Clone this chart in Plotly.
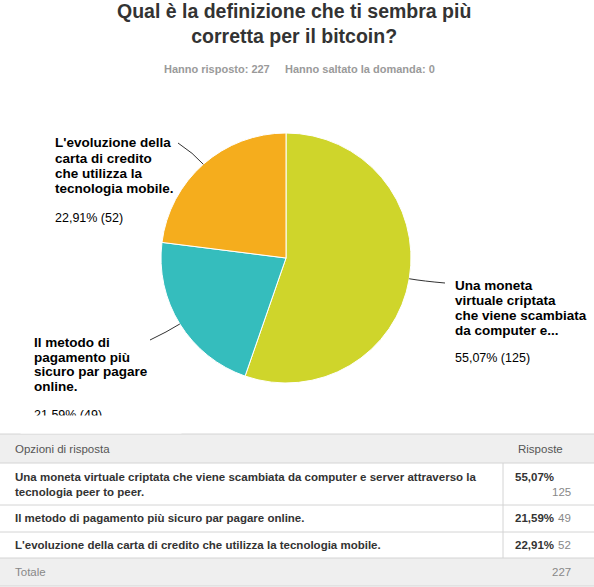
import math
import plotly.graph_objects as go

# ---------------- data ----------------
title_lines = ["Qual è la definizione che ti sembra più", "corretta per il bitcoin?"]
answered = 227
skipped = 0
answers = [
    "Una moneta virtuale criptata che viene scambiata da computer e server attraverso la tecnologia peer to peer.",
    "Il metodo di pagamento più sicuro par pagare online.",
    "L'evoluzione della carta di credito che utilizza la tecnologia mobile.",
]
answer_table_lines = [
    ["Una moneta virtuale criptata che viene scambiata da computer e server attraverso la",
     "tecnologia peer to peer."],
    ["Il metodo di pagamento più sicuro par pagare online."],
    ["L'evoluzione della carta di credito che utilizza la tecnologia mobile."],
]
pie_label_lines = [
    ["Una moneta", "virtuale criptata", "che viene scambiata", "da computer e..."],
    ["Il metodo di", "pagamento più", "sicuro par pagare", "online."],
    ["L'evoluzione della", "carta di credito", "che utilizza la", "tecnologia mobile."],
]
counts = [125, 49, 52]
colors = ["#CFD52B", "#35BDBD", "#F5AD1D"]
header_labels = ["Opzioni di risposta", "Risposte"]
total_label = "Totale"

# ---------------- layout helpers ----------------
W, H = 594, 587
FONT = "Liberation Sans, Arial, Helvetica, sans-serif"


def px(x):
    return x / W


def py(y):
    return 1 - y / H


def pct(v):
    return f"{100 * v / answered:.2f}".replace(".", ",") + "%"


CX, CY, R = 286, 258, 125

fig = go.Figure()
fig.add_trace(go.Pie(
    values=counts,
    labels=answers,
    marker=dict(colors=colors, line=dict(color="white", width=1)),
    sort=False,
    direction="clockwise",
    rotation=0,
    textinfo="none",
    hoverinfo="none",
    showlegend=False,
    domain=dict(x=[px(CX - R), px(CX + R)], y=[py(CY + R), py(CY - R)]),
))

ann = []
shapes = []


def text(x, y, s, size=12, color="#333", bold=False, xanchor="left", **kw):
    if bold:
        s = f"<b>{s}</b>"
    ann.append(dict(x=px(x), y=py(y), xref="paper", yref="paper", text=s,
                    showarrow=False, xanchor=xanchor, yanchor="middle",
                    font=dict(family=FONT, size=size, color=color), **kw))


# title
text(294, 23, "<br>".join(title_lines), size=19.5, color="#333333", bold=True, xanchor="center")
text(162, 69, f"Hanno risposto: {answered}", size=11, color="#9a9a9a", bold=True)
text(283, 69, f"Hanno saltato la domanda: {skipped}", size=11, color="#9a9a9a", bold=True)

# pie labels (layout positions)
label_pos = [
    dict(x=453, y0=285, dy=15, pct_y=358, end=(445, 283)),
    dict(x=32, y0=342.5, dy=14.5, pct_y=415, end=(150, 340)),
    dict(x=53, y0=143, dy=15, pct_y=218, end=(178, 143)),
]
total_counts = sum(counts)
cum = 0
for i, c in enumerate(counts):
    mid = (cum + c / 2) / total_counts * 2 * math.pi
    cum += c
    sx, sy = CX + R * math.sin(mid), CY - R * math.cos(mid)
    qx, qy = CX + (R + 15) * math.sin(mid), CY - (R + 15) * math.cos(mid)
    ex, ey = label_pos[i]["end"]
    path = (f"M {px(sx)},{py(sy)} Q {px(qx)},{py(qy)} {px(ex)},{py(ey)}")
    shapes.append(dict(type="path", path=path, xref="paper", yref="paper",
                       line=dict(color="#333", width=1)))
    lp = label_pos[i]
    for j, line in enumerate(pie_label_lines[i]):
        text(lp["x"], lp["y0"] + j * lp["dy"], line, size=13.5, color="#000", bold=True)
    text(lp["x"], lp["pct_y"], f"{pct(c)} ({c})", size=12.5, color="#000")

# clip the overflowing label at the bottom of the chart area
ann.append(dict(x=px(20), y=py(415), xref="paper", yref="paper", text=" ",
                showarrow=False, xanchor="left", yanchor="top",
                width=160, height=17, bgcolor="white", borderpad=0,
                font=dict(size=1)))

# ---------------- table ----------------
LINE = "#d4d4d4"
GREY = "#efefef"
row_edges = [434, 463, 505, 532, 558, 586]
shapes.append(dict(type="rect", xref="paper", yref="paper", x0=0, x1=1,
                   y0=py(row_edges[1]), y1=py(row_edges[0]), fillcolor=GREY, line_width=0, layer="below"))
shapes.append(dict(type="rect", xref="paper", yref="paper", x0=0, x1=1,
                   y0=py(row_edges[5]), y1=py(row_edges[4]), fillcolor=GREY, line_width=0, layer="below"))
for ye in row_edges:
    shapes.append(dict(type="line", xref="paper", yref="paper", x0=0, x1=1,
                       y0=py(ye), y1=py(ye), line=dict(color=LINE, width=1)))
shapes.append(dict(type="line", xref="paper", yref="paper", x0=px(503), x1=px(503),
                   y0=py(row_edges[1]), y1=py(row_edges[4]), line=dict(color=LINE, width=1)))

text(13, 449, header_labels[0], size=11.5, color="#555")
text(516, 449, header_labels[1], size=11.5, color="#555")

row_text_y = [[477, 492], [518], [545]]
for i, lines in enumerate(answer_table_lines):
    for j, line in enumerate(lines):
        text(13, row_text_y[i][j], line, size=11.5, color="#333", bold=True)
    text(513, row_text_y[i][0], pct(counts[i]), size=11.5, color="#333", bold=True)
    text(573, row_text_y[i][-1], str(counts[i]), size=11.5, color="#888", xanchor="right")

text(13, 572, total_label, size=11.5, color="#888")
text(573, 572, str(answered), size=11.5, color="#888", xanchor="right")

fig.update_layout(
    width=W, height=H,
    margin=dict(l=0, r=0, t=0, b=0),
    paper_bgcolor="white", plot_bgcolor="white",
    annotations=ann, shapes=shapes,
    showlegend=False,
)
fig.write_html("out.html")
